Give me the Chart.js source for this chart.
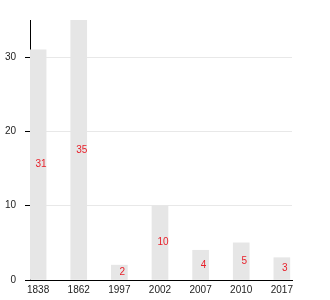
<!DOCTYPE html>
<html>
<head>
<meta charset="utf-8">
<script src="https://cdn.jsdelivr.net/npm/chart.js@4"></script>
<style>
  body { margin: 0; background: #fff; }
</style>
</head>
<body>
<canvas id="chart" width="330" height="300"></canvas>
<script>
// Data
const years = ["1838", "1862", "1997", "2002", "2007", "2010", "2017"];
const counts = [31, 35, 2, 10, 4, 5, 3];
const yTicks = [0, 10, 20, 30];

// red value labels in the middle of each bar
const midLabels = {
  id: "midLabels",
  afterDatasetsDraw(chart) {
    const ctx = chart.ctx;
    const meta = chart.getDatasetMeta(0);
    ctx.save();
    ctx.font = "10px 'Liberation Sans', Arial, sans-serif";
    ctx.fillStyle = "#e8202a";
    ctx.textAlign = "center";
    ctx.textBaseline = "middle";
    meta.data.forEach((bar, i) => {
      ctx.fillText(String(counts[i]), bar.x + 3, (bar.y + bar.base) / 2);
    });
    ctx.restore();
  }
};

Chart.defaults.font.family = "'Liberation Sans', Arial, sans-serif";
Chart.defaults.font.size = 10;
Chart.defaults.color = "#222";

new Chart(document.getElementById("chart"), {
  type: "bar",
  data: {
    datasets: [{
      data: counts.map((v, i) => ({ x: i, y: v })),
      backgroundColor: "#e6e6e6",
      barThickness: 16
    }]
  },
  options: {
    responsive: false,
    animation: false,
    layout: { padding: { top: 20, right: 38, left: 2, bottom: 0 } },
    plugins: { legend: { display: false }, tooltip: { enabled: false } },
    scales: {
      x: {
        type: "linear",
        offset: false,
        min: -0.2,
        max: 6.25,
        grid: { display: false, drawTicks: false },
        border: { color: "#000", width: 1 },
        afterBuildTicks: s => { s.ticks = years.map((_, i) => ({ value: i })); },
        ticks: { callback: v => years[v], padding: 4, maxRotation: 0 }
      },
      y: {
        min: 0,
        max: 35,
        grid: { color: "#e8e8e8", tickColor: "#000", tickLength: 5 },
        border: { color: "#000", width: 1 },
        afterBuildTicks: s => { s.ticks = yTicks.map(v => ({ value: v })); },
        afterFit: s => { s.width = 28; },
        ticks: { padding: 9 }
      }
    }
  },
  plugins: [midLabels]
});
</script>
</body>
</html>
